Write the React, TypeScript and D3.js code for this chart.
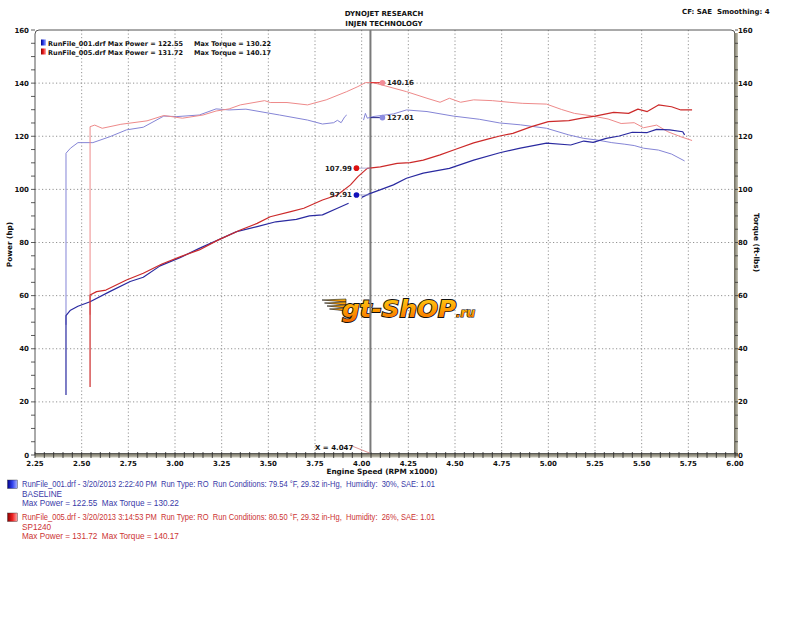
import React from "react";
import * as d3 from "d3";

// ---- data ----
const xTicks = [2.25, 2.5, 2.75, 3.0, 3.25, 3.5, 3.75, 4.0, 4.25, 4.5, 4.75, 5.0, 5.25, 5.5, 5.75, 6.0];
const yTicks = [0, 20, 40, 60, 80, 100, 120, 140, 160];

const bluePowerRpm = [2.416, 2.416, 2.44, 2.48, 2.545, 2.65, 2.76, 2.83, 2.92, 3.03, 3.13, 3.22, 3.33, 3.44, 3.54, 3.65, 3.72, 3.79, 3.87, 3.93, 3.96, 4.0, 4.04, 4.12, 4.17, 4.24, 4.33, 4.47, 4.6, 4.74, 4.85, 4.99, 5.12, 5.19, 5.24, 5.31, 5.38, 5.45, 5.53, 5.58, 5.65, 5.72, 5.73];
const bluePowerHp = [22.6, 52.5, 54.5, 56, 57.7, 61.5, 65.3, 66.9, 71.2, 74.4, 77.8, 80.6, 84.1, 86, 87.8, 88.7, 90, 90.4, 92.9, 94.8, null, 97.0, 98.3, 100.4, 101.7, 104.2, 106.1, 107.9, 111, 113.8, 115.5, 117.4, 116.7, 118.2, 117.7, 119.2, 120.1, 121.5, 121.4, 122.6, 122.4, 121.7, 120.5];

const blueTorqueRpm = [2.416, 2.416, 2.44, 2.48, 2.56, 2.65, 2.74, 2.83, 2.94, 3.01, 3.13, 3.22, 3.29, 3.38, 3.56, 3.71, 3.79, 3.85, 3.87, 3.89, 3.91, 3.92, 3.96, 4.01, 4.02, 4.03, 4.06, 4.17, 4.24, 4.35, 4.49, 4.63, 4.74, 4.85, 4.99, 5.11, 5.19, 5.26, 5.34, 5.41, 5.46, 5.51, 5.59, 5.66, 5.73];
const blueTorqueFt = [49, 113.6, 115.5, 117.6, 117.6, 119.8, 122.4, 123.4, 127.6, 127.4, 128, 130.3, 129.9, 130.2, 128, 126.1, 124.6, 125.1, 126, 125.1, 127.4, 128, null, 126.1, 128.6, 126.8, 127.4, 128.4, 129.9, 129.3, 127.6, 126.4, 125.0, 124.3, 123, 120.5, 119.2, 118.6, 117.6, 117, 116.5, 115.5, 114.8, 113.3, 110.7];

const redPowerRpm = [2.545, 2.545, 2.58, 2.63, 2.74, 2.83, 2.93, 3.03, 3.13, 3.23, 3.35, 3.44, 3.51, 3.62, 3.69, 3.79, 3.87, 3.94, 3.98, 4.03, 4.1, 4.19, 4.26, 4.33, 4.42, 4.5, 4.6, 4.68, 4.74, 4.81, 4.91, 5.0, 5.11, 5.18, 5.25, 5.35, 5.43, 5.48, 5.53, 5.59, 5.66, 5.71, 5.77];
const redPowerHp = [25.6, 60.2, 61.5, 62.1, 65.9, 68.4, 71.9, 74.7, 77.2, 80.9, 84.7, 87.2, 89.7, 91.6, 92.9, 96, 97.9, 101.7, 104.8, 107.9, 108.5, 109.8, 110.1, 111, 113, 115, 117.5, 119, 120.1, 121.1, 123.6, 125.5, 125.9, 126.8, 127.6, 129, 128.6, 130.2, 129.3, 131.8, 131.1, 129.9, 129.9];

const redTorqueRpm = [2.545, 2.545, 2.57, 2.61, 2.71, 2.85, 2.94, 3.04, 3.15, 3.22, 3.29, 3.35, 3.48, 3.51, 3.6, 3.71, 3.81, 3.92, 3.98, 4.02, 4.06, 4.13, 4.24, 4.35, 4.42, 4.47, 4.53, 4.6, 4.7, 4.79, 4.86, 4.99, 5.07, 5.14, 5.23, 5.32, 5.39, 5.46, 5.51, 5.58, 5.64, 5.71, 5.77];
const redTorqueFt = [52.8, 123.6, 124.2, 123, 124.5, 125.8, 127.8, 126.8, 128, 129.5, 130.3, 131.8, 133.4, 132.7, 132.7, 131.8, 133.7, 136.8, 138.7, 140.2, 140.2, 138.9, 136.8, 134.3, 132.8, 134.3, 132.8, 133.7, 133.4, 132.8, 132.4, 132.1, 130.1, 128.6, 127.7, 126.5, 124.8, 125.1, 123.2, 124.2, 121.7, 119.8, 118.4];

const cursorX = 4.047;
const cursorValues = { bluePower: 97.91, redPower: 107.99, blueTorque: 127.01, redTorque: 140.16 };

const legendTop = [
  { name: "RunFile_001.drf Max Power = 122.55", torque: "Max Torque = 130.22" },
  { name: "RunFile_005.drf Max Power = 131.72", torque: "Max Torque = 140.17" },
];

const runInfo = [
  {
    line1: "RunFile_001.drf - 3/20/2013 2:22:40 PM  Run Type: RO  Run Conditions: 79.54 °F, 29.32 in-Hg,  Humidity:  30%, SAE: 1.01",
    line2: "BASELINE",
    line3: "Max Power = 122.55  Max Torque = 130.22",
    color: "#3a3aa8",
  },
  {
    line1: "RunFile_005.drf - 3/20/2013 3:14:53 PM  Run Type: RO  Run Conditions: 80.50 °F, 29.32 in-Hg,  Humidity:  26%, SAE: 1.01",
    line2: "SP1240",
    line3: "Max Power = 131.72  Max Torque = 140.17",
    color: "#cc3333",
  },
];

const W = 800, H = 619;
const L = 35, R = 735, T = 30, B = 455;

export default function App() {
  const x = d3.scaleLinear().domain([2.25, 6.0]).range([L, R]);
  const y = d3.scaleLinear().domain([0, 160]).range([B, T]);

  const mk = (xs: number[], ys: (number | null)[]) => xs.map((v, i) => ({ x: v, y: ys[i] }));
  const line = d3
    .line<{ x: number; y: number | null }>()
    .defined((d) => d.y != null)
    .x((d) => x(d.x))
    .y((d) => y(d.y as number))
    .curve(d3.curveLinear);

  const series = [
    { d: mk(blueTorqueRpm, blueTorqueFt), color: "#8585d6", w: 1 },
    { d: mk(redTorqueRpm, redTorqueFt), color: "#ee8a8a", w: 1 },
    { d: mk(bluePowerRpm, bluePowerHp), color: "#2a2aa0", w: 1.2 },
    { d: mk(redPowerRpm, redPowerHp), color: "#cc2a2a", w: 1.2 },
  ];

  const minorX = d3.range(2.25, 6.0001, 0.05);
  const minorY = d3.range(0, 160.001, 5);
  const cx = x(cursorX);
  const leftDot = cx - 14;
  const rightDot = cx + 12;
  const font = "'DejaVu Sans', Verdana, sans-serif";
  const sans = "'Liberation Sans', Arial, sans-serif";

  return (
    <svg width={W} height={H} style={{ position: "absolute", left: 0, top: 0, background: "#fff" }}>
      <defs>
        <linearGradient id="logoGrad" x1="0" y1="0" x2="0" y2="1">
          <stop offset="0" stopColor="#ffd21a" />
          <stop offset="0.55" stopColor="#ff9a00" />
          <stop offset="1" stopColor="#f26a00" />
        </linearGradient>
        <linearGradient id="barGrad" x1="0" y1="0" x2="0" y2="1">
          <stop offset="0" stopColor="#6d6a5c" />
          <stop offset="1" stopColor="#c9c7b8" />
        </linearGradient>
        <linearGradient id="barGradV" x1="0" y1="0" x2="1" y2="0">
          <stop offset="0" stopColor="#6d6a5c" />
          <stop offset="1" stopColor="#c9c7b8" />
        </linearGradient>
        <linearGradient id="blueBox" x1="0" y1="0" x2="1" y2="0">
          <stop offset="0" stopColor="#000088" />
          <stop offset="0.5" stopColor="#3344ee" />
          <stop offset="1" stopColor="#aab4ff" />
        </linearGradient>
        <linearGradient id="redBox" x1="0" y1="0" x2="1" y2="0">
          <stop offset="0" stopColor="#880000" />
          <stop offset="0.5" stopColor="#ee2222" />
          <stop offset="1" stopColor="#ffaaaa" />
        </linearGradient>
      </defs>

      {/* header */}
      <text x={384} y={15.5} textAnchor="middle" fontFamily={font} fontWeight="bold" fontSize={7} fill="#111">DYNOJET RESEARCH</text>
      <text x={384} y={25.5} textAnchor="middle" fontFamily={font} fontWeight="bold" fontSize={7} fill="#111">INJEN TECHNOLOGY</text>
      <text x={682} y={14} fontFamily={font} fontWeight="bold" fontSize={7} fill="#111" xmlSpace="preserve">CF: SAE  Smoothing: 4</text>

      {/* grid */}
      {xTicks.filter((t) => t > 2.25 && t < 6.0).map((t) => (
        <line key={"gx" + t} x1={x(t)} x2={x(t)} y1={T} y2={B} stroke="#777" strokeWidth={0.8} strokeDasharray="1.2,2.3" />
      ))}
      {yTicks.filter((t) => t > 0 && t < 160).map((t) => (
        <line key={"gy" + t} x1={L} x2={R} y1={y(t)} y2={y(t)} stroke="#777" strokeWidth={0.8} strokeDasharray="1.2,2.3" />
      ))}

      {/* frame */}
      <path d={`M${L},${B} L${L},${T + 4} Q${L},${T} ${L + 4},${T} L${R - 4},${T} Q${R},${T} ${R},${T + 4}`} fill="none" stroke="#555" strokeWidth={1} />
      <rect x={R - 1} y={T + 3} width={4} height={B - T - 3} fill="url(#barGradV)" />
      <rect x={L} y={B - 1.5} width={R - L + 3} height={4} fill="url(#barGrad)" />
      <line x1={L} x2={R + 3} y1={B - 1.5} y2={B - 1.5} stroke="#444" strokeWidth={0.8} />

      {/* minor ticks */}
      {minorX.map((t, i) => (
        <line key={"mx" + i} x1={x(t)} x2={x(t)} y1={B - 3} y2={B + 3} stroke="#222" strokeWidth={0.8} />
      ))}
      {minorY.map((t, i) => (
        <g key={"my" + i}>
          <line x1={L - 4} x2={L} y1={y(t)} y2={y(t)} stroke="#333" strokeWidth={0.8} />
          <line x1={R} x2={R + 3} y1={y(t)} y2={y(t)} stroke="#333" strokeWidth={0.8} />
        </g>
      ))}

      {/* tick labels */}
      {xTicks.map((t) => (
        <text key={"xl" + t} x={x(t)} y={466} textAnchor="middle" fontFamily={font} fontWeight="bold" fontSize={7} fill="#111">{t.toFixed(2)}</text>
      ))}
      {yTicks.map((t) => (
        <g key={"yl" + t}>
          <text x={29} y={y(t) + 2.5} textAnchor="end" fontFamily={font} fontWeight="bold" fontSize={7} fill="#111">{t}</text>
          <text x={738} y={y(t) + 2.5} textAnchor="start" fontFamily={font} fontWeight="bold" fontSize={7} fill="#111">{t}</text>
        </g>
      ))}
      <text x={382} y={474} textAnchor="middle" fontFamily={font} fontWeight="bold" fontSize={7.3} fill="#111">Engine Speed (RPM x1000)</text>
      <text transform={`translate(12,${(T + B) / 2 + 2}) rotate(-90)`} textAnchor="middle" fontFamily={font} fontWeight="bold" fontSize={7.3} fill="#111">Power (hp)</text>
      <text transform={`translate(754,${(T + B) / 2}) rotate(90)`} textAnchor="middle" fontFamily={font} fontWeight="bold" fontSize={7.3} fill="#111">Torque (ft-lbs)</text>

      {/* logo */}
      <g transform="translate(322,297)">
        {[0, 1, 2, 3].map((i) => (
          <path key={"st" + i} d={`M${i * 2.5},${3 + i * 3} L${24},${2 + i * 3} L${24},${5 + i * 3} Z`} fill="url(#logoGrad)" stroke="#111" strokeWidth={0.6} />
        ))}
        <text x={20} y={20} fontFamily="'DejaVu Sans', sans-serif" fontWeight="bold" fontStyle="italic" fontSize={23} fill="url(#logoGrad)" stroke="#111" strokeWidth={1.8} paintOrder="stroke" textLength={114} lengthAdjust="spacingAndGlyphs">gt-ShOP</text>
        <text x={134} y={20} fontFamily="'DejaVu Sans', sans-serif" fontWeight="bold" fontStyle="italic" fontSize={12} fill="url(#logoGrad)" stroke="#111" strokeWidth={1.2} paintOrder="stroke">.ru</text>
      </g>

      {/* cursor */}
      <line x1={cx} x2={cx} y1={T} y2={B - 2} stroke="#7a7a7a" strokeWidth={2} />

      {/* series */}
      {series.map((s, i) => (
        <path key={"s" + i} d={line(s.d) || ""} fill="none" stroke={s.color} strokeWidth={s.w} strokeLinejoin="round" />
      ))}

      {/* cursor markers */}
      <line x1={leftDot} x2={cx} y1={y(cursorValues.redPower)} y2={y(cursorValues.redPower)} stroke="#9999cc" strokeWidth={0.8} />
      <line x1={leftDot} x2={cx} y1={y(cursorValues.bluePower)} y2={y(cursorValues.bluePower)} stroke="#9999cc" strokeWidth={0.8} />
      <line x1={cx} x2={rightDot} y1={y(cursorValues.redTorque)} y2={y(cursorValues.redTorque)} stroke="#dd2222" strokeWidth={1} />
      <line x1={cx} x2={rightDot} y1={y(cursorValues.blueTorque)} y2={y(cursorValues.blueTorque)} stroke="#222288" strokeWidth={1} />
      <circle cx={leftDot} cy={y(cursorValues.redPower)} r={2.8} fill="#dd1111" />
      <circle cx={leftDot} cy={y(cursorValues.bluePower)} r={2.8} fill="#1111bb" />
      <circle cx={rightDot} cy={y(cursorValues.redTorque)} r={2.8} fill="#f28c96" />
      <circle cx={rightDot} cy={y(cursorValues.blueTorque)} r={2.8} fill="#8c8ce0" />
      <text x={leftDot - 4.5} y={y(cursorValues.redPower) + 2.5} textAnchor="end" fontFamily={font} fontWeight="bold" fontSize={7} fill="#222">{cursorValues.redPower.toFixed(2)}</text>
      <text x={leftDot - 4.5} y={y(cursorValues.bluePower) + 2.5} textAnchor="end" fontFamily={font} fontWeight="bold" fontSize={7} fill="#222">{cursorValues.bluePower.toFixed(2)}</text>
      <text x={rightDot + 4.5} y={y(cursorValues.redTorque) + 2.5} fontFamily={font} fontWeight="bold" fontSize={7} fill="#222">{cursorValues.redTorque.toFixed(2)}</text>
      <text x={rightDot + 4.5} y={y(cursorValues.blueTorque) + 2.5} fontFamily={font} fontWeight="bold" fontSize={7} fill="#222">{cursorValues.blueTorque.toFixed(2)}</text>

      {/* X = label */}
      <text x={315} y={450} fontFamily={font} fontWeight="bold" fontSize={7} fill="#111">X = {cursorX.toFixed(3)}</text>
      <line x1={352} y1={446} x2={cx - 1} y2={B - 2} stroke="#cc6666" strokeWidth={0.7} />

      {/* top legend */}
      {legendTop.map((l, i) => (
        <g key={"lt" + i}>
          <rect x={41} y={39.5 + i * 9} width={5} height={6} fill={i === 0 ? "url(#blueBox)" : "url(#redBox)"} />
          <text x={48} y={46 + i * 9} fontFamily={font} fontWeight="bold" fontSize={6.6} fill="#111" textLength={135} lengthAdjust="spacingAndGlyphs">{l.name}</text>
          <text x={194} y={46 + i * 9} fontFamily={font} fontWeight="bold" fontSize={6.6} fill="#111" textLength={77} lengthAdjust="spacingAndGlyphs">{l.torque}</text>
        </g>
      ))}

      {/* bottom run info */}
      {runInfo.map((r, i) => {
        const base = 487 + i * 33;
        return (
          <g key={"ri" + i}>
            <rect x={7.5} y={base - 7} width={10} height={8.5} fill={i === 0 ? "url(#blueBox)" : "url(#redBox)"} stroke="#333" strokeWidth={0.4} />
            <text x={22} y={base} fontFamily={sans} fontSize={8.2} fill={r.color} xmlSpace="preserve" textLength={413} lengthAdjust="spacingAndGlyphs">{r.line1}</text>
            <text x={22} y={base + 9.5} fontFamily={sans} fontSize={8.2} fill={r.color}>{r.line2}</text>
            <text x={22} y={base + 19} fontFamily={sans} fontSize={8.2} fill={r.color} xmlSpace="preserve">{r.line3}</text>
          </g>
        );
      })}
    </svg>
  );
}
